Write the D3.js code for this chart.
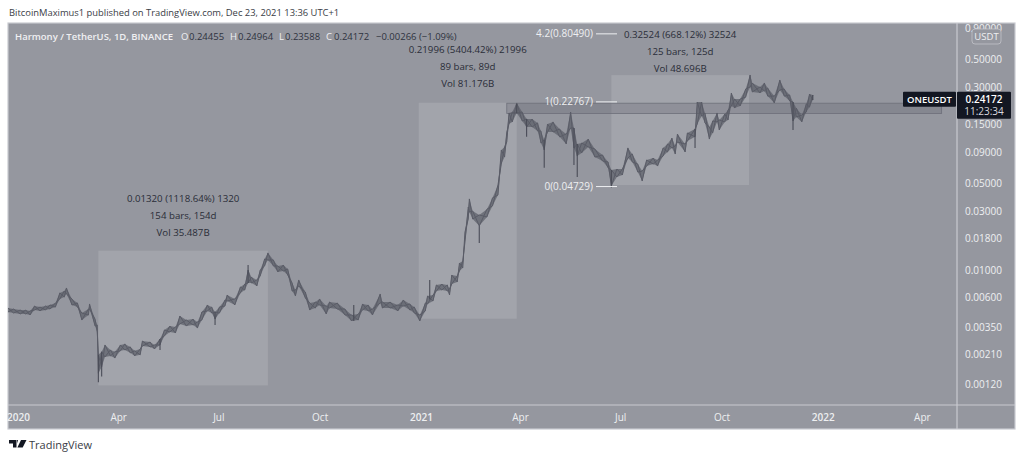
<!DOCTYPE html>
<html>
<head>
<meta charset="utf-8">
<script src="https://cdnjs.cloudflare.com/ajax/libs/d3/7.8.5/d3.min.js"></script>
<style>
	html, body { margin: 0; background: #fff; overflow: hidden; }
	text { font-family: "Open Sans", sans-serif; }
</style>
</head>
<body>
<svg id="chart" width="1024" height="460"></svg>
<script>
// days since 2020-01-01
const barDays = [-9,-4,2,7,11,15,20,25,29,34,38,42,44,49,54,58,64,65,70,72,73,76,79,84,88,93,97,102,106,111,113,120,124,129,133,138,143,147,153,159,163,167,172,176,179,183,188,190,197,202,206,209,212,217,220,224,227,232,236,241,245,249,252,255,261,265,270,274,280,283,290,297,303,309,313,318,322,329,331,338,345,350,356,360,365,370,372,377,380,385,390,392,394,399,401,404,406,409,410,413,419,426,431,436,439,442,444,446,449,453,458,462,467,472,475,478,481,486,492,498,502,505,508,512,518,524,531,536,539,544,549,554,558,563,567,571,577,581,586,590,594,597,599,606,608,615,617,621,624,628,631,635,637,642,645,648,651,656,661,665,667,674,678,681,687,692,696,701,704,707,712,716,719,722];
const barHighs = [.00496,.00487,.00478,.00478,.0047,.00515,.00505,.00515,.00525,.00545,.00657,.0068,.0072,.00587,.00545,.00452,.00487,.00535,.00404,.00362,.00208,.0022,.0025,.00228,.0022,.0025,.00255,.00241,.00224,.00232,.00269,.00264,.0025,.00279,.0033,.00355,.00349,.00428,.00397,.00404,.00383,.00461,.00525,.00505,.00461,.00505,.00576,.00632,.00587,.00733,.00775,.01005,.00883,.00835,.01005,.01232,.0138,.0121,.01083,.01103,.01024,.0079,.00693,.00835,.00668,.00545,.00555,.00587,.00515,.00555,.00545,.00487,.00436,.00444,.00535,.00525,.00487,.00644,.00555,.00555,.00525,.00576,.00535,.00505,.00436,.00545,.0062,.00632,.00761,.00775,.00761,.00706,.00916,.00899,.01143,.01188,.0203,.0323,.0376,.03,.0279,.0311,.0383,.0487,.0932,.0987,.1302,.1853,.1885,.2231,.1885,.1657,.1657,.154,.1326,.1122,.151,.157,.1376,.1254,.1885,.1402,.1042,.1061,.1142,.095,.0849,.0746,.0643,.0655,.0655,.0969,.0865,.0718,.0631,.0774,.0803,.0774,.0969,.1042,.1163,.1005,.1254,.1042,.1277,.1376,.2271,.2271,.1853,.1429,.1598,.1853,.1627,.1818,.1958,.2685,.2401,.2401,.2892,.375,.3234,.3002,.3234,.2947,.2535,.3418,.2892,.2587,.2271,.2031,.1785,.219,.2635,.2587];
const barLows = [.00461,.00452,.00444,.00444,.00436,.00478,.0047,.00478,.00487,.00505,.00587,.00608,.00644,.00525,.00505,.00397,.00436,.00487,.00355,.00318,.00148,.00166,.002,.00204,.00196,.00224,.00228,.00216,.00204,.00208,.00245,.00241,.00232,.0025,.00295,.00318,.00312,.00369,.00355,.00362,.00342,.00397,.0047,.00452,.00404,.00452,.00515,.00565,.00525,.00657,.00693,.00790,.0079,.00747,.00899,.01083,.0121,.01083,.00969,.00987,.00916,.0068,.0062,.00747,.00598,.00478,.00496,.00525,.00444,.00496,.00487,.00436,.0039,.00397,.00478,.0047,.00436,.00545,.00496,.00496,.0047,.00515,.00478,.00452,.0039,.0047,.00535,.00565,.0068,.00693,.0068,.00632,.00775,.00805,.00987,.01043,.0169,.0259,.0295,.0259,.0228,.0269,.033,.0404,.0718,.0818,.1081,.151,.157,.1853,.1598,.1429,.1429,.1326,.1061,.0932,.1302,.1302,.119,.1042,.1402,.0969,.0833,.0882,.0987,.0818,.076,.0669,.0478,.0565,.0586,.0803,.0746,.0619,.0524,.0692,.0718,.0692,.0833,.0898,.0969,.0865,.1081,.0898,.1101,.119,.151,.1752,.154,.1142,.1277,.157,.1351,.157,.1627,.211,.2031,.211,.2487,.3002,.2736,.2685,.2787,.2535,.2231,.2839,.2535,.2315,.1598,.172,.157,.1885,.2068,.2358];

// long wicks that stand out of the band
const wickDays = [73,76,129,179,209,305,374,419,453,462,478,505,508,539,615,704,722];
const wickHighs = [.00208,.0022,.00279,.00461,.01103,.00525,.00835,.0228,.219,.1657,.1122,.1402,.1042,.0643,.1376,.2271,.2587];
const wickLows = [.00125,.00139,.00228,.00362,.0079,.0039,.0058,.0166,.1853,.119,.0669,.0705,.0565,.0465,.0969,.1351,.2358];

// measure boxes
const measureStart = [73,364,539];
const measureBars = [154,89,125];
const measureLow = [.00118,.00407,.04868];
const measureHigh = [.01438,.22403,.37392];
const measureLines = [
	["0.01320 (1118.64%) 1320","154 bars, 154d","Vol 35.487B"],
	["0.21996 (5404.42%) 21996","89 bars, 89d","Vol 81.176B"],
	["0.32524 (668.12%) 32524","125 bars, 125d","Vol 48.696B"]
];

const fibLevels = [.8049,.22767,.04729];
const fibLabels = ["4.2(0.80490)","1(0.22767)","0(0.04729)"];

const zoneDays = [444,839];
const zonePrices = [.2222,.1835];

const xTickDates = ["2020-01-01","2020-04-01","2020-07-01","2020-10-01","2021-01-01","2021-04-01","2021-07-01","2021-10-01","2022-01-01","2022-04-01"];
const xTickLabels = ["2020","Apr","Jul","Oct","2021","Apr","Jul","Oct","2022","Apr"];
const yTicks = [.9,.5,.3,.15,.09,.05,.03,.018,.01,.006,.0035,.0021,.0012];

const legendParts = [
	["Harmony / TetherUS, 1D, BINANCE",15,"#f0f0f2"],
	["O",181,"#f0f0f2"],["0.24455",189,"#2f3340"],
	["H",230,"#f0f0f2"],["0.24964",238,"#2f3340"],
	["L",279,"#f0f0f2"],["0.23588",285,"#2f3340"],
	["C",326,"#f0f0f2"],["0.24172",334,"#2f3340"],
	["−0.00266 (−1.09%)",376,"#2f3340"]
];

const bg = "#95979f";
const frameColor = "#c9cad0";
const light = "#eeeff1";
const dark = "#2a2d38";
const candle = "#5a5c67";

const left = 8, top_ = 23, right = 1015, bottom = 429, plotRight = 957, plotBottom = 405;

const svg = d3.select("#chart");
const day0 = new Date(Date.UTC(2020, 0, 1));
const dayDate = (d) => d3.utcDay.offset(day0, d);

const x = d3.scaleUtc().domain([day0, new Date(Date.UTC(2021, 3, 1))]).range([18, 520]);
const y = d3.scaleLog().domain([.5, .0012]).range([59.5, 384.5]);
const xd = (d) => x(dayDate(d));

svg.append("text").attr("x", 9).attr("y", 16).attr("font-size", 9.4).attr("fill", "#3a3d46")
	.text("BitcoinMaximus1 published on TradingView.com, Dec 23, 2021 13:36 UTC+1");

svg.append("rect").attr("x", left).attr("y", top_).attr("width", right - left).attr("height", bottom - top_)
	.attr("fill", bg).attr("stroke", frameColor).attr("stroke-width", 1.2);

const defs = svg.append("defs");
defs.append("clipPath").attr("id", "plot").append("rect")
	.attr("x", left).attr("y", top_).attr("width", plotRight - left).attr("height", plotBottom - top_);
defs.append("clipPath").attr("id", "scale").append("rect")
	.attr("x", plotRight).attr("y", top_).attr("width", right - plotRight).attr("height", plotBottom - top_);

const plot = svg.append("g").attr("clip-path", "url(#plot)");

// measure boxes
plot.selectAll("rect.measure").data(measureStart).join("rect")
	.attr("class", "measure")
	.attr("x", (d) => xd(d))
	.attr("width", (d, i) => xd(d + measureBars[i]) - xd(d))
	.attr("y", (d, i) => y(measureHigh[i]))
	.attr("height", (d, i) => y(measureLow[i]) - y(measureHigh[i]))
	.attr("fill", "#fff").attr("fill-opacity", 0.13);

// resistance zone
plot.append("rect")
	.attr("x", xd(zoneDays[0])).attr("width", xd(zoneDays[1]) - xd(zoneDays[0]))
	.attr("y", y(zonePrices[0])).attr("height", y(zonePrices[1]) - y(zonePrices[0]))
	.attr("fill", "#5c5e6a").attr("fill-opacity", 0.28)
	.attr("stroke", "#6d6f7a").attr("stroke-width", 0.8);

// price band
const band = d3.area()
	.x((d) => xd(d))
	.y0((d, i) => y(barLows[i]))
	.y1((d, i) => y(barHighs[i]));

plot.append("path").attr("d", band(barDays))
	.attr("fill", candle).attr("fill-opacity", 0.7);

// zigzag between highs and lows, gives the bars their rough edge
const zigzag = d3.line()
	.x((d) => xd(d.day))
	.y((d) => y(d.price));

const zigzagPoints = barDays.map((d, i) => ({ day: d, price: i % 2 ? barLows[i] : barHighs[i] }));
const zagPoints = barDays.map((d, i) => ({ day: d, price: i % 2 ? barHighs[i] : barLows[i] }));

plot.selectAll("path.zig").data([zigzagPoints, zagPoints]).join("path")
	.attr("class", "zig")
	.attr("d", zigzag)
	.attr("fill", "none")
	.attr("stroke", candle)
	.attr("stroke-width", 1);

plot.selectAll("line.wick").data(wickDays).join("line")
	.attr("class", "wick")
	.attr("x1", (d) => xd(d)).attr("x2", (d) => xd(d))
	.attr("y1", (d, i) => y(wickHighs[i])).attr("y2", (d, i) => y(wickLows[i]))
	.attr("stroke", "#4a4c57").attr("stroke-width", 1.1);

// measure text
const measureTextY = [202,53,37.5];
measureLines.forEach((lines, i) => {
	const cx = (xd(measureStart[i]) + xd(measureStart[i] + measureBars[i])) / 2;
	svg.selectAll(null).data(lines).join("text")
		.attr("x", cx)
		.attr("y", (d, k) => measureTextY[i] + k * 17.2)
		.attr("text-anchor", "middle")
		.attr("font-size", 9.7)
		.attr("fill", dark)
		.text((d) => d);
});

// fib levels
svg.selectAll("line.fib").data(fibLevels).join("line")
	.attr("class", "fib")
	.attr("x1", 596).attr("x2", 617)
	.attr("y1", (d) => y(d)).attr("y2", (d) => y(d))
	.attr("stroke", light).attr("stroke-width", 1);

svg.selectAll("text.fib").data(fibLevels).join("text")
	.attr("class", "fib")
	.attr("x", 593).attr("y", (d) => y(d)).attr("dy", "0.34em")
	.attr("text-anchor", "end").attr("font-size", 10).attr("fill", light)
	.text((d, i) => fibLabels[i]);

// legend
svg.selectAll("text.legend").data(legendParts).join("text")
	.attr("class", "legend")
	.attr("x", (d) => d[1]).attr("y", 40)
	.attr("font-size", 9.5).attr("font-weight", (d, i) => (i === 0 ? 600 : 400))
	.attr("fill", (d) => d[2])
	.text((d) => d[0]);

// axes
const xAxis = svg.append("g")
	.attr("transform", `translate(0,${plotBottom})`)
	.call(d3.axisBottom(x)
		.tickValues(xTickDates.map((d) => new Date(d + "T00:00:00Z")))
		.tickSize(0).tickPadding(9)
		.tickFormat((d, i) => xTickLabels[i]));
xAxis.select(".domain").remove();
xAxis.selectAll("text")
	.attr("font-size", 10).attr("fill", light)
	.attr("font-weight", (d, i) => (xTickLabels[i].length === 4 ? 600 : 400))
	.style("font-family", '"Open Sans", sans-serif');

const yAxis = svg.append("g")
	.attr("clip-path", "url(#scale)")
	.append("g")
	.attr("transform", `translate(${plotRight},0)`)
	.call(d3.axisRight(y).tickValues(yTicks).tickSize(0).tickPadding(8).tickFormat((d) => d.toFixed(5)));
yAxis.select(".domain").remove();
yAxis.selectAll("text")
	.attr("font-size", 10).attr("fill", light)
	.style("font-family", '"Open Sans", sans-serif');

svg.append("line").attr("x1", left).attr("x2", right).attr("y1", plotBottom).attr("y2", plotBottom)
	.attr("stroke", frameColor).attr("stroke-width", 1.2);
svg.append("line").attr("x1", plotRight).attr("x2", plotRight).attr("y1", top_).attr("y2", bottom)
	.attr("stroke", frameColor).attr("stroke-width", 1.2);

// USDT button
svg.append("rect").attr("x", 972).attr("y", 29).attr("width", 29).attr("height", 15).attr("rx", 3)
	.attr("fill", bg).attr("stroke", "#c2c3c9").attr("stroke-width", 0.8);
svg.append("text").attr("x", 986.5).attr("y", 40).attr("text-anchor", "middle")
	.attr("font-size", 9.5).attr("fill", light).text("USDT");

// last price tags
const tagY = y(.24172);
svg.append("rect").attr("x", 903).attr("y", tagY - 7).attr("width", 53).attr("height", 15).attr("rx", 1).attr("fill", "#131722");
svg.append("text").attr("x", 929.5).attr("y", tagY + 4).attr("text-anchor", "middle")
	.attr("font-size", 9.5).attr("font-weight", 600).attr("fill", "#fff").text("ONEUSDT");
svg.append("rect").attr("x", 957).attr("y", tagY - 7).attr("width", 54).attr("height", 27).attr("rx", 1).attr("fill", "#131722");
svg.append("text").attr("x", 984).attr("y", tagY + 4.5).attr("text-anchor", "middle")
	.attr("font-size", 10).attr("font-weight", 600).attr("fill", "#fff").text("0.24172");
svg.append("text").attr("x", 984).attr("y", tagY + 16.5).attr("text-anchor", "middle")
	.attr("font-size", 10).attr("fill", "#d8d9de").text("11:23:34");

// footer logo
svg.append("path").attr("fill", "#131722")
	.attr("d", "M9 440h7.5v7.5h-3.5v-4h-4z M18 440l-1 0 0 3.4a2 2 0 1 0 0 0z M21 440h5.5l-3.8 7.5h-5.3z");
svg.append("text").attr("x", 29).attr("y", 449).attr("font-size", 11).attr("fill", "#3a3d46").text("TradingView");
</script>
</body>
</html>
